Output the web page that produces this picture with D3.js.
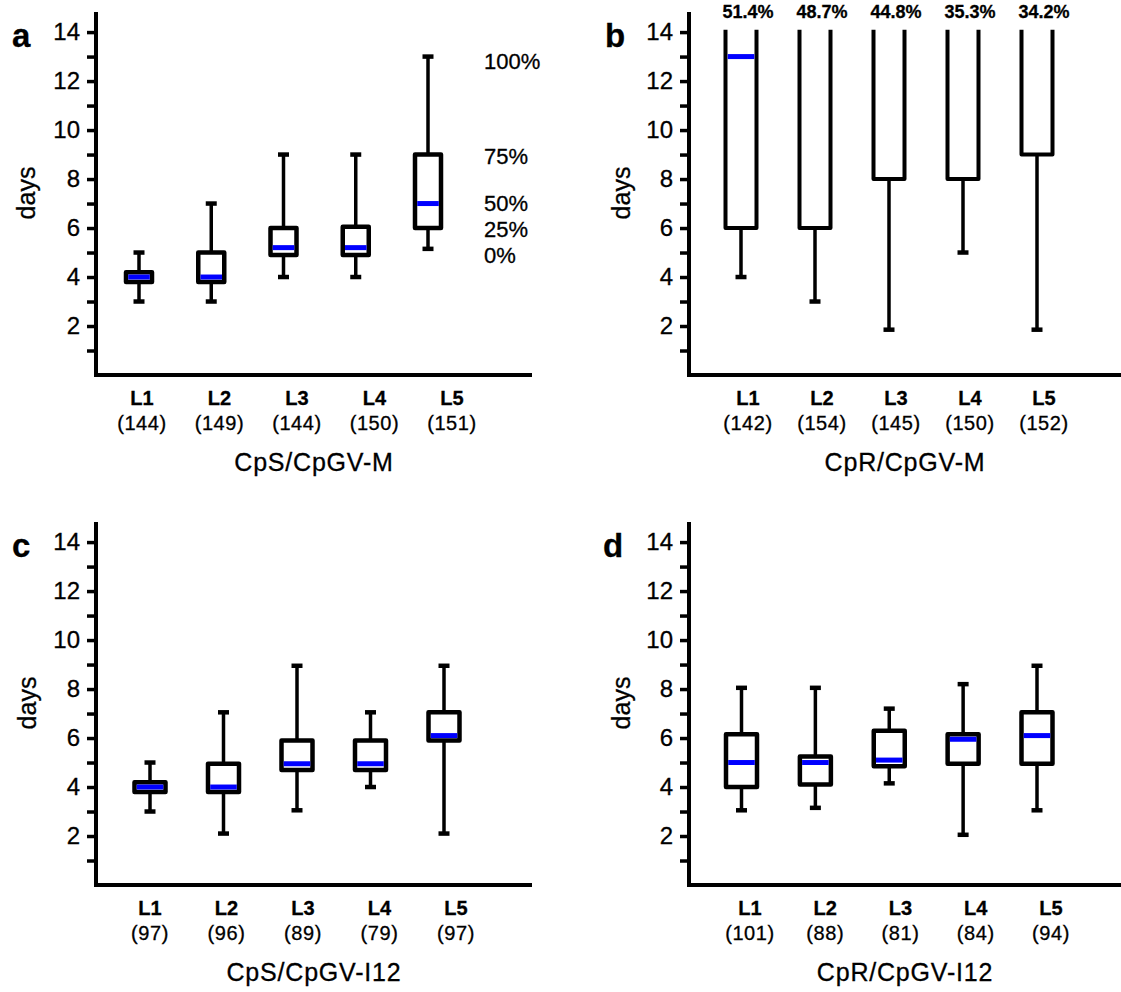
<!DOCTYPE html>
<html>
<head>
<meta charset="utf-8">
<script src="https://cdn.jsdelivr.net/npm/d3@7"></script>
<style>
  html, body { margin: 0; padding: 0; background: #fff; }
  svg { display: block; font-family: "Liberation Sans", Arial, Helvetica, sans-serif; }
  svg text { stroke: #000; stroke-width: 0.3px; paint-order: stroke; }
</style>
</head>
<body>
<svg id="chart" width="1121" height="992"></svg>
<script>
// ---------- data ----------
const categories = ["L1", "L2", "L3", "L4", "L5"];
const yTickValues = [1, 2, 3, 4, 5, 6, 7, 8, 9, 10, 11, 12, 13, 14];
const yTickLabels = ["", "2", "", "4", "", "6", "", "8", "", "10", "", "12", "", "14"];

// panel a : CpS/CpGV-M
const aMin = [3, 3, 4, 4, 5.15];
const aQ1  = [3.8, 3.8, 4.9, 4.9, 6];
const aMed = [4, 4, 5.2, 5.2, 7];
const aQ3  = [4.2, 5, 6, 6.05, 9];
const aMax = [5, 7, 9, 9, 13];
const aN   = ["(144)", "(149)", "(144)", "(150)", "(151)"];
const aTitle = "CpS/CpGV-M";
const quantileLabels = ["100%", "75%", "50%", "25%", "0%"];

// panel b : CpR/CpGV-M  (null = above the plotted range)
const bMin = [4, 3, 1.85, 5, 1.85];
const bQ1  = [6, 6, 8, 8, 9];
const bMed = [13, null, null, null, null];
const bQ3  = [null, null, null, null, null];
const bMax = [null, null, null, null, null];
const bN   = ["(142)", "(154)", "(145)", "(150)", "(152)"];
const bPct = ["51.4%", "48.7%", "44.8%", "35.3%", "34.2%"];
const bTitle = "CpR/CpGV-M";

// panel c : CpS/CpGV-I12
const cMin = [3, 2.1, 3.05, 4, 2.1];
const cQ1  = [3.8, 3.8, 4.7, 4.7, 5.9];
const cMed = [4, 4, 4.95, 4.95, 6.1];
const cQ3  = [4.2, 4.95, 5.9, 5.9, 7.05];
const cMax = [5, 7.05, 8.95, 7.05, 8.95];
const cN   = ["(97)", "(96)", "(89)", "(79)", "(97)"];
const cTitle = "CpS/CpGV-I12";

// panel d : CpR/CpGV-I12
const dMin = [3.05, 3.15, 4.15, 2.05, 3.05];
const dQ1  = [4.0, 4.1, 4.85, 4.95, 4.95];
const dMed = [5, 5, 5.1, 5.95, 6.1];
const dQ3  = [6.15, 5.25, 6.3, 6.15, 7.05];
const dMax = [8.05, 8.05, 7.2, 8.2, 8.95];
const dN   = ["(101)", "(88)", "(81)", "(84)", "(94)"];
const dTitle = "CpR/CpGV-I12";

// ---------- layout ----------
const svg = d3.select("#chart");
const BLUE = "#0000ff";
const yDomainTop = 14.82;
const clipTop = 14.1;

const panels = [
  { letter: "a", min: aMin, q1: aQ1, med: aMed, q3: aQ3, max: aMax, n: aN, title: aTitle,
    oy: 0, axisX: 96, xEnd: 532, boxRange: [139, 428], boxW: 26, labelRange: [142, 452],
    letterX: 12, daysX: 27 },
  { letter: "b", min: bMin, q1: bQ1, med: bMed, q3: bQ3, max: bMax, n: bN, title: bTitle,
    oy: 0, axisX: 689, xEnd: 1121, boxRange: [741, 1037], boxW: 31, labelRange: [748, 1044],
    letterX: 605, daysX: 622, pct: bPct },
  { letter: "c", min: cMin, q1: cQ1, med: cMed, q3: cQ3, max: cMax, n: cN, title: cTitle,
    oy: 510, axisX: 96, xEnd: 532, boxRange: [150, 444], boxW: 31, labelRange: [150, 456],
    letterX: 12, daysX: 28 },
  { letter: "d", min: dMin, q1: dQ1, med: dMed, q3: dQ3, max: dMax, n: dN, title: dTitle,
    oy: 510, axisX: 689, xEnd: 1121, boxRange: [741.5, 1037], boxW: 31, labelRange: [750, 1051],
    letterX: 603, daysX: 622 }
];

panels.forEach(p => {
  const g = svg.append("g");
  const y = d3.scaleLinear().domain([0, yDomainTop]).range([375 + p.oy, 12 + p.oy]);
  const x = d3.scalePoint().domain(categories).range(p.boxRange);
  const xl = d3.scalePoint().domain(categories).range(p.labelRange);

  // y axis ticks and labels
  const yAxis = d3.axisLeft(y)
    .tickValues(yTickValues)
    .tickFormat((d, i) => yTickLabels[i])
    .tickSize(9)
    .tickPadding(7)
    .tickSizeOuter(0);
  const ya = g.append("g").attr("transform", `translate(${p.axisX},0)`).call(yAxis);
  ya.select(".domain").remove();
  ya.selectAll(".tick line").attr("stroke", "#000").attr("stroke-width", 3.5);
  ya.selectAll(".tick text").attr("font-size", 24).attr("fill", "#000")
    .attr("font-family", "'Liberation Sans', Arial, sans-serif");

  // axis lines (L shape)
  const xAxisScale = d3.scaleLinear().range([p.axisX, p.xEnd]);
  g.append("path")
    .attr("d", `M${p.axisX},${y.range()[1]}V${y(0)}H${xAxisScale.range()[1]}`)
    .attr("fill", "none").attr("stroke", "#000").attr("stroke-width", 4)
    .attr("stroke-linejoin", "miter");

  // boxes
  categories.forEach((cat, i) => {
    const cx = x(cat);
    const hw = p.boxW / 2;
    const capW = 11;
    const q3v = p.q3[i], maxv = p.max[i];
    // upper whisker
    if (q3v !== null && maxv !== null) {
      g.append("line").attr("x1", cx).attr("x2", cx).attr("y1", y(q3v)).attr("y2", y(maxv))
        .attr("stroke", "#000").attr("stroke-width", 3.5);
      g.append("line").attr("x1", cx - capW / 2).attr("x2", cx + capW / 2)
        .attr("y1", y(maxv)).attr("y2", y(maxv))
        .attr("stroke", "#000").attr("stroke-width", 4.5);
    }
    // lower whisker
    g.append("line").attr("x1", cx).attr("x2", cx).attr("y1", y(p.q1[i])).attr("y2", y(p.min[i]))
      .attr("stroke", "#000").attr("stroke-width", 3.5);
    g.append("line").attr("x1", cx - capW / 2).attr("x2", cx + capW / 2)
      .attr("y1", y(p.min[i])).attr("y2", y(p.min[i]))
      .attr("stroke", "#000").attr("stroke-width", 4.5);
    // box
    if (q3v !== null) {
      g.append("rect").attr("x", cx - hw).attr("y", y(q3v))
        .attr("width", p.boxW).attr("height", y(p.q1[i]) - y(q3v))
        .attr("fill", "#fff").attr("stroke", "#000").attr("stroke-width", 4.5)
        .attr("stroke-linejoin", "round");
    } else {
      g.append("rect").attr("x", cx - hw).attr("y", y(clipTop))
        .attr("width", p.boxW).attr("height", y(p.q1[i]) - y(clipTop))
        .attr("fill", "#fff");
      g.append("path")
        .attr("d", `M${cx - hw},${y(clipTop)}V${y(p.q1[i])}H${cx + hw}V${y(clipTop)}`)
        .attr("fill", "none").attr("stroke", "#000").attr("stroke-width", 4)
        .attr("stroke-linejoin", "round");
    }
    // median
    if (p.med[i] !== null) {
      g.append("line").attr("x1", cx - hw + 2.2).attr("x2", cx + hw - 2.2)
        .attr("y1", y(p.med[i])).attr("y2", y(p.med[i]))
        .attr("stroke", BLUE).attr("stroke-width", 5);
    }
  });

  // category labels
  g.selectAll(null).data(categories).enter().append("text")
    .attr("x", d => xl(d)).attr("y", 405 + p.oy)
    .attr("text-anchor", "middle").attr("font-size", 20).attr("font-weight", "bold")
    .text(d => d);
  g.selectAll(null).data(p.n).enter().append("text")
    .attr("x", (d, i) => xl(categories[i])).attr("y", 429.5 + p.oy)
    .attr("text-anchor", "middle").attr("font-size", 20).attr("letter-spacing", 0.6)
    .text(d => d);

  // title
  g.append("text").attr("x", (p.axisX + p.xEnd) / 2).attr("y", 471 + p.oy)
    .attr("text-anchor", "middle").attr("font-size", 25).attr("letter-spacing", 0.8)
    .text(p.title);

  // y axis label
  g.append("text")
    .attr("transform", `translate(${p.daysX + 8},${193 + p.oy}) rotate(-90)`)
    .attr("text-anchor", "middle").attr("font-size", 25).text("days");

  // panel letter
  g.append("text").attr("x", p.letterX).attr("y", 47 + p.oy)
    .attr("font-size", 33).attr("font-weight", "bold").text(p.letter);

  // percentages above boxes (panel b)
  if (p.pct) {
    g.selectAll(null).data(p.pct).enter().append("text")
      .attr("x", (d, i) => xl(categories[i])).attr("y", 18 + p.oy)
      .attr("text-anchor", "middle").attr("font-size", 18).attr("font-weight", "bold")
      .text(d => d);
  }
});

// quantile legend beside panel a, positioned at the L5 box statistics
{
  const y = d3.scaleLinear().domain([0, yDomainTop]).range([375, 12]);
  const l5 = [aMax[4], aQ3[4], aMed[4], aQ1[4], aMin[4]];
  const nudge = [5, 2, 0, 1, 6];
  svg.append("g").selectAll("text").data(quantileLabels).enter().append("text")
    .attr("x", 484).attr("y", (d, i) => y(l5[i]) + nudge[i])
    .attr("dy", "0.36em").attr("font-size", 22).text(d => d);
}
</script>
</body>
</html>
